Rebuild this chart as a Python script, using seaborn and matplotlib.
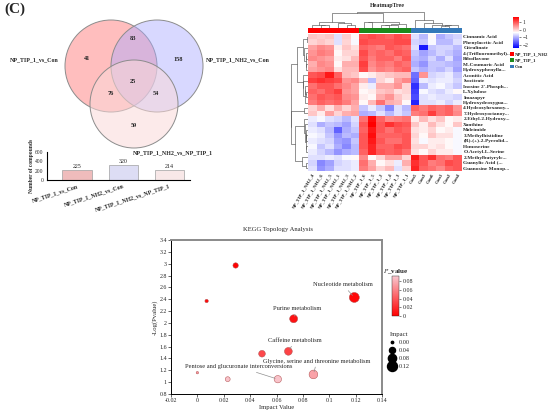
import numpy as np
import pandas as pd
import matplotlib
matplotlib.use("Agg")
import matplotlib.pyplot as plt
import seaborn as sns
from matplotlib.colors import LinearSegmentedColormap, ListedColormap, Normalize
from matplotlib.cm import ScalarMappable
from matplotlib.patches import Circle, Patch
from matplotlib.lines import Line2D

# ---------------- data ----------------
venn_sets = ["NP_TIP_1_vs_Con", "NP_TIP_1_NH2_vs_Con", "NP_TIP_1_NH2_vs_NP_TIP_1"]
venn_regions = ["A", "B", "C", "AB", "AC", "BC", "ABC"]
venn_counts = [41, 158, 59, 83, 76, 54, 25]

bar_labels = ["NP_TIP_1_vs_Con", "NP_TIP_1_NH2_vs_Con", "NP_TIP_1_NH2_vs_NP_TIP_1"]
bar_counts = [225, 320, 214]

metabolites = [
    "Cinnamic Acid", "Phenylacetic Acid", "Citrulinate", "4-(Trifluoromethyl)...",
    "Riboflavone", "M-Coumaric Acid", "Hydroxyphenylla...", "Aconitic Acid",
    "Isocitrate", "Inosine 2'-Phosph...", "L-Xylulose", "Imazapyr",
    "Hydroxydeoxygua...", "4-Hydroxyhexanoy...", "7-Hydroxyoctanoy...",
    "2-Ethyl-2-Hydroxy...", "Xanthine", "Maleimide", "3-Methylhistidine",
    "(R)-(+)-2-Pyrrolid...", "Homoserine", "O-Acetyl-L-Serine",
    "2-Methylbutyrylc...", "Guanylic Acid (...", "Guanosine Monop...",
]
samples = [
    "NP_TIP_1_NH2_4", "NP_TIP_1_NH2_6", "NP_TIP_1_NH2_5", "NP_TIP_1_NH2_1",
    "NP_TIP_1_NH2_3", "NP_TIP_1_NH2_2",
    "NP_TIP_1_6", "NP_TIP_1_5", "NP_TIP_1_2", "NP_TIP_1_4", "NP_TIP_1_3", "NP_TIP_1_1",
    "Con5", "Con3", "Con6", "Con1", "Con2", "Con4",
]
sample_groups = ["NP_TIP_1_NH2"] * 6 + ["NP_TIP_1"] * 6 + ["Con"] * 6
group_names = ["NP_TIP_1_NH2", "NP_TIP_1", "Con"]

zscores = [
    [0.1, 0.05, 0.1, -0.6, 0.05, -0.3, 1.0, 1.1, 1.0, 0.9, 1.1, 1.0, -0.6, -0.9, -0.3, -1.0, -0.8, -0.7],
    [0.0, 0.1, 0.0, -0.6, 0.0, -0.4, 1.1, 1.0, 1.0, 1.0, 1.1, 1.1, -0.7, -0.8, -0.4, -0.9, -0.9, -0.6],
    [0.4, 0.6, 0.5, -0.2, 0.1, -0.1, 0.9, 0.8, 0.7, 1.0, 0.9, 0.8, -0.6, -2.2, -0.8, -0.7, -0.7, -0.9],
    [0.5, 0.7, 0.6, -0.3, 0.0, 0.0, 1.1, 0.8, 0.9, 0.8, 1.0, 0.9, -0.8, -1.1, -0.9, -0.7, -0.8, -1.0],
    [0.6, 0.5, 0.4, -0.2, -0.1, 0.2, 1.0, 0.7, 0.9, 0.9, 0.7, 1.0, -0.9, -1.0, -0.7, -1.0, -0.6, -1.1],
    [0.3, 0.6, 0.5, -0.3, 0.3, 0.3, 1.2, 0.6, 0.8, 0.7, 0.9, 0.8, -1.0, -1.2, -0.8, -0.8, -0.9, -1.0],
    [0.4, 0.5, 0.6, -0.1, 0.2, 0.2, 1.1, 0.5, 0.7, 0.6, 0.8, 0.9, -0.8, -1.0, -0.8, -0.9, -0.7, -1.1],
    [1.0, 1.1, 1.5, 0.9, 0.2, 0.1, -0.3, -0.2, 0.0, 0.1, 0.2, 0.2, -1.5, 0.5, -0.7, -0.6, -0.5, -0.8],
    [1.2, 1.3, 1.2, 1.1, 0.5, 0.6, 0.2, -0.9, 0.0, -0.2, 0.4, 0.6, -1.6, -0.5, -0.6, -0.5, -0.5, -0.7],
    [0.8, 1.0, 1.0, 0.8, 0.6, 0.4, -0.2, -0.5, 0.3, 0.3, 0.5, 0.0, -2.0, -0.9, -0.5, -0.4, -0.6, -0.8],
    [0.9, 0.8, 1.0, 1.2, 0.5, 0.4, -0.3, -0.2, 0.1, 0.2, -0.1, 0.0, -1.9, -0.4, -0.6, -0.7, -0.5, -0.3],
    [0.8, 1.0, 0.9, 1.0, 0.6, 0.5, -0.2, -0.3, 0.3, 0.5, 0.1, -0.1, -1.8, -0.6, -0.5, -0.6, -0.6, -0.7],
    [0.7, 0.9, 0.8, 0.9, 0.7, 0.4, -0.3, 0.2, 0.8, 0.3, 0.2, -0.3, -2.1, -0.6, -0.6, -0.5, -0.7, -0.5],
    [0.0, 0.3, -0.1, 0.3, 0.0, 0.3, -0.8, -0.5, -0.8, -1.3, -0.6, -0.9, 0.9, 0.7, 0.9, 0.8, 0.9, 0.5],
    [0.1, -0.2, 0.4, 0.0, 0.3, 0.4, -1.0, -0.9, -0.6, -0.9, -0.6, -0.8, 0.7, 0.8, 1.2, 0.8, 0.9, 0.6],
    [-0.5, -0.4, -0.6, -0.7, -0.9, -0.6, 0.8, 1.6, 0.9, 0.6, 0.7, 0.8, -0.2, 0.2, -0.1, 0.1, -0.3, -0.2],
    [-0.6, -1.0, -0.8, -0.9, -1.1, -0.7, 1.0, 1.8, 1.0, 1.3, 1.1, 1.0, 0.1, -0.2, 0.2, -0.1, -0.3, 0.1],
    [-0.5, -0.6, -0.9, -1.6, -1.0, -0.8, 0.9, 1.5, 1.0, 0.8, 1.0, 0.9, -0.1, -0.2, 0.0, -0.3, -0.2, -0.4],
    [-0.4, -0.5, -0.8, -1.2, -0.9, -1.0, 1.0, 1.6, 0.9, 0.9, 0.9, 1.0, 0.0, -0.3, 0.1, -0.1, -0.1, -0.4],
    [-0.5, -0.6, -0.7, -1.1, -1.2, -0.8, 1.0, 1.5, 1.0, 0.8, 0.8, 1.0, -0.1, -0.4, -0.2, -0.2, -0.3, -0.4],
    [-0.4, -0.8, -0.6, -1.0, -1.3, -0.9, 1.0, 1.4, 0.9, 0.9, 1.1, 1.0, 0.0, 0.0, -0.2, -0.1, -0.3, -0.4],
    [-0.5, -0.7, -0.9, -1.2, -1.0, -0.9, 0.9, 1.4, 1.0, 0.9, 1.0, 0.8, -0.1, -0.3, 0.0, -0.2, -0.2, -0.4],
    [-0.6, -0.6, -0.5, -0.6, -0.4, -0.3, 0.6, -0.3, 0.0, 0.4, 0.4, 0.0, 1.5, 1.0, 1.3, 0.8, 0.7, 1.0],
    [-0.7, -1.3, -1.1, -0.7, -0.6, -0.5, 0.8, 0.3, -0.3, -0.1, -0.5, 0.3, 1.3, 1.0, 0.7, 0.8, 1.1, 1.0],
    [-0.6, -1.2, -1.0, -0.6, -0.6, -0.5, 0.7, 0.4, 0.0, 0.2, -0.6, 0.0, 1.4, 0.9, 0.8, 0.6, 0.9, 1.0],
]

impact = [0.029, 0.007, 0.119, 0.073, 0.069, 0.049, 0.000, 0.023, 0.061, 0.088]
neg_log_p = [2.97, 2.37, 2.43, 2.07, 1.52, 1.48, 1.16, 1.05, 1.05, 1.13]
pathway = ["", "", "Nucleotide metabolism", "Purine metabolism", "Caffeine metabolism", "",
           "", "", "Pentose and glucuronate interconversions",
           "Glycine, serine and threonine metabolism"]

# ---------------- style ----------------
sns.set_style("white")
plt.rcParams["font.family"] = ["Liberation Serif", "DejaVu Serif"]
plt.rcParams["mathtext.fontset"] = "stix"

W, H = 550, 415


def px(l, t, w, h):
    return [l / W, 1 - (t + h) / H, w / W, h / H]


fig = plt.figure(figsize=(5.5, 4.15), dpi=100)
fig.text(4 / W, 1 - 3 / H, "(C)", fontsize=11, fontweight="bold", va="top")

# ==============================
# Venn
# ==============================
ax_v = fig.add_axes(px(0, 0, 280, 150))
ax_v.set_xlim(0, 280)
ax_v.set_ylim(150, 0)
ax_v.axis("off")

circle_layout = [((111, 66), 46, "#FF8A8A", 0.55),
                 ((157, 66), 46, "#A9A9FF", 0.45),
                 ((134, 104), 44, "#FAD9D9", 0.55)]
for (c, r, col, a) in circle_layout:
    ax_v.add_patch(Circle(c, r, facecolor=col, alpha=a, edgecolor="none"))
    ax_v.add_patch(Circle(c, r, facecolor="none", edgecolor="#8C8C8C", lw=0.7))

region_pos = {"A": (87, 58), "B": (178, 59), "C": (134, 125), "AB": (133, 38),
              "AC": (111, 93), "BC": (156, 93), "ABC": (133, 81)}
for name, cnt in zip(venn_regions, venn_counts):
    ax_v.text(*region_pos[name], str(cnt), fontsize=4.5, fontweight="bold",
              ha="center", va="center")

ax_v.text(10, 60, venn_sets[0], fontsize=4.3, fontweight="bold", va="center")
ax_v.text(206, 60, venn_sets[1], fontsize=4.3, fontweight="bold", va="center")

# bar chart below
ax_b = fig.add_axes(px(47, 152, 143, 28))
ax_b.set_facecolor("none")
bar_colors = ["#F7B4B4", "#D9D9F8", "#FBE5E5"]
sns.barplot(x=bar_labels, y=bar_counts, hue=bar_labels, palette=bar_colors,
            legend=False, ax=ax_b, width=0.63, edgecolor="#A0A0A0", linewidth=0.5)
for cont in ax_b.containers:
    ax_b.bar_label(cont, fontsize=4.3, padding=0.5)
ax_b.set_xlim(-0.65, 2.45)
ax_b.set_ylim(0, 600)
ax_b.set_yticks([0, 200, 400, 600])
ax_b.tick_params(labelsize=4, length=1.5, width=0.5, pad=1)
ax_b.set_xticks([0, 1, 2])
ax_b.set_xticklabels(bar_labels, rotation=18, ha="right", rotation_mode="anchor",
                     fontsize=4.2, fontweight="bold")
ax_b.set_ylabel("Number of compounds", fontsize=4, fontweight="bold", labelpad=1)
sns.despine(ax=ax_b)
for s in ["left", "bottom"]:
    ax_b.spines[s].set_linewidth(0.8)
    ax_b.spines[s].set_color("black")

fig.text(133 / W, 1 - 153 / H, venn_sets[2], fontsize=4.3, fontweight="bold", va="center")

# ==============================
# Heatmap
# ==============================
data = np.array(zscores)
df = pd.DataFrame(data, index=metabolites, columns=samples)
hm_cmap = LinearSegmentedColormap.from_list("bwr2", ["#0000FF", "#FFFFFF", "#FF0000"])

ax_h = fig.add_axes(px(308, 34, 154, 137))
cax_h = fig.add_axes(px(513, 17, 6, 31))
sns.heatmap(df, ax=ax_h, cmap=hm_cmap, vmin=-2.4, vmax=1.7, cbar_ax=cax_h,
            linewidths=0, xticklabels=True, yticklabels=True)
ax_h.yaxis.tick_right()
ax_h.set_yticklabels(metabolites, rotation=0, fontsize=3.8, fontweight="bold")
ax_h.set_xticklabels(samples, rotation=60, ha="right", rotation_mode="anchor",
                     fontsize=3.6, fontweight="bold")
ax_h.tick_params(length=0, pad=1)
ax_h.set_xlabel("")
ax_h.set_ylabel("")
cax_h.set_yticks([1, 0, -1, -2])
cax_h.tick_params(labelsize=4, length=1.5, width=0.4, pad=1)

# group annotation bar
group_colors = ["#FF0000", "#1C8A1C", "#3479B8"]
codes = pd.DataFrame([[group_names.index(g) for g in sample_groups]])
ax_a = fig.add_axes(px(308, 28, 154, 5.5))
sns.heatmap(codes, ax=ax_a, cmap=ListedColormap(group_colors), vmin=-0.5, vmax=2.5,
            cbar=False, xticklabels=False, yticklabels=False, linewidths=0)

handles = [Patch(facecolor=c, edgecolor="none", label=g) for g, c in zip(group_names, group_colors)]
fig.legend(handles=handles, loc="upper left", bbox_to_anchor=(508 / W, 1 - 50 / H),
           frameon=False, handlelength=0.8, handleheight=0.8,
           handletextpad=0.25, labelspacing=0.4, borderaxespad=0,
           prop={"weight": "bold", "size": 3.4})

fig.text(387 / W, 1 - 6 / H, "HeatmapTree", fontsize=4.3, fontweight="bold", ha="center", va="center")


def ordered_tree(X):
    # agglomerative clustering that only joins neighbours, so leaf order stays as plotted
    D = np.sqrt(((X[:, None, :] - X[None, :, :]) ** 2).sum(-1))
    groups = [[i] for i in range(len(X))]
    xs = [i + 0.5 for i in range(len(X))]
    hs = [0.0] * len(X)
    segs = []
    while len(groups) > 1:
        d = [D[np.ix_(groups[k], groups[k + 1])].mean() for k in range(len(groups) - 1)]
        k = int(np.argmin(d))
        h = max(d[k], hs[k], hs[k + 1])
        segs.append(([xs[k], xs[k], xs[k + 1], xs[k + 1]], [hs[k], h, h, hs[k + 1]]))
        groups[k] = groups[k] + groups.pop(k + 1)
        xs[k] = (xs[k] + xs.pop(k + 1)) / 2
        hs[k] = h
        hs.pop(k + 1)
    return segs, h


col_segs, col_top = ordered_tree(data.T)
ax_dt = fig.add_axes(px(308, 12, 154, 16))
for xx, yy in col_segs:
    ax_dt.plot(xx, yy, color="#555555", lw=0.45)
ax_dt.set_xlim(0, data.shape[1])
ax_dt.set_ylim(0, col_top * 1.02)
ax_dt.axis("off")

row_segs, row_top = ordered_tree(data)
ax_dl = fig.add_axes(px(291, 34, 17, 137))
for xx, yy in row_segs:
    ax_dl.plot(yy, xx, color="#555555", lw=0.45)
ax_dl.set_ylim(data.shape[0], 0)
ax_dl.set_xlim(row_top * 1.02, 0)
ax_dl.axis("off")

# ==============================
# KEGG topology
# ==============================
pvals = [10 ** (-v) for v in neg_log_p]
p_cmap = LinearSegmentedColormap.from_list("pv", ["#FF0000", "#F9C8D0"])
p_norm = Normalize(0, 0.092)
size_range = (3, 52)
impact_norm = (0, 0.12)

ax_k = fig.add_axes(px(171, 240, 211, 154))
sns.scatterplot(x=impact, y=neg_log_p, hue=pvals, size=impact, palette=p_cmap,
                hue_norm=p_norm, sizes=size_range, size_norm=impact_norm,
                edgecolor="#B05050", linewidth=0.35, legend=False, ax=ax_k, zorder=3)
ax_k.set_xlim(-0.02, 0.14)
ax_k.set_ylim(0.8, 3.4)
x_ticks = [-0.02, 0, 0.02, 0.04, 0.06, 0.08, 0.1, 0.12, 0.14]
y_ticks = [0.8, 1, 1.2, 1.4, 1.6, 1.8, 2, 2.2, 2.4, 2.6, 2.8, 3, 3.2, 3.4]
ax_k.set_xticks(x_ticks)
ax_k.set_xticklabels([f"{v:g}" for v in x_ticks])
ax_k.set_yticks(y_ticks)
ax_k.set_yticklabels([f"{v:g}" for v in y_ticks])
ax_k.tick_params(labelsize=4.3, length=2, width=0.5, pad=1, direction="out",
                 bottom=True, left=True)
ax_k.set_xlabel("Impact Value", fontsize=4.8, labelpad=1)
ax_k.set_ylabel("-Log(Pvalue)", fontsize=4.8, labelpad=1)
for s in ["left", "bottom"]:
    ax_k.spines[s].set_color("black")
    ax_k.spines[s].set_linewidth(0.7)
for s in ["top", "right"]:
    ax_k.spines[s].set_color("#8A8A8A")
    ax_k.spines[s].set_linewidth(1.4)

label_pos = {"Nucleotide metabolism": (0.1105, 2.60),
             "Purine metabolism": (0.0755, 2.20),
             "Caffeine metabolism": (0.074, 1.66),
             "Pentose and glucuronate interconversions": (0.031, 1.22),
             "Glycine, serine and threonine metabolism": (0.0905, 1.31)}
for xi, yi, name in zip(impact, neg_log_p, pathway):
    if name:
        ax_k.annotate(name, xy=(xi, yi), xytext=label_pos[name], fontsize=4.6,
                      ha="center", va="bottom", zorder=4,
                      arrowprops=dict(arrowstyle="-", color="#909090", lw=0.5,
                                      shrinkA=0, shrinkB=2))

fig.text(278 / W, 1 - 229 / H, "KEGG Topology Analysis", fontsize=4.8, ha="center", va="center")

cax_k = fig.add_axes(px(392, 276, 7, 40))
cb = fig.colorbar(ScalarMappable(norm=p_norm, cmap=p_cmap), cax=cax_k,
                  ticks=[0, 0.02, 0.04, 0.06, 0.08])
cb.ax.set_yticklabels(["0", "0.02", "0.04", "0.06", "0.08"])
cb.ax.tick_params(labelsize=4.3, length=1.5, width=0.4, pad=1)
cb.outline.set_linewidth(0.3)
cb.ax.set_title(r"$\mathit{P}$_value", fontsize=5, pad=2, fontweight="bold")

legend_impacts = [0.0, 0.04, 0.08, 0.12]


def point_size(v):
    return size_range[0] + (size_range[1] - size_range[0]) * (v - impact_norm[0]) / (impact_norm[1] - impact_norm[0])


size_handles = [Line2D([], [], marker="o", ls="", color="black",
                       markersize=np.sqrt(point_size(v)), label=f"{v:.2f}")
                for v in legend_impacts]
fig.legend(handles=size_handles, title="Impact", loc="upper left",
           bbox_to_anchor=(386 / W, 1 - 329 / H), frameon=False, fontsize=4.5,
           title_fontsize=4.8, handletextpad=0.4, labelspacing=0.45, borderaxespad=0,
           handlelength=1.2)

fig.savefig("out.png", dpi=100)
print("saved")
